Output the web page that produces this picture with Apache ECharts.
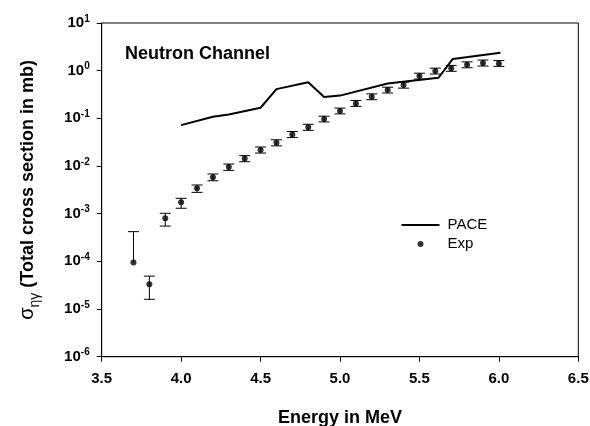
<!DOCTYPE html>
<html>
<head>
<meta charset="utf-8">
<script src="https://cdn.jsdelivr.net/npm/echarts@6/dist/echarts.min.js"></script>
<style>
html,body{margin:0;padding:0;background:#fff;}
#chart{width:590px;height:426px;}
</style>
</head>
<body>
<div id="chart"></div>
<script>
// ---- data ----
const expEnergy = [3.7, 3.8, 3.9, 4.0, 4.1, 4.2, 4.3, 4.4, 4.5, 4.6, 4.7, 4.8, 4.9, 5.0, 5.1, 5.2, 5.3, 5.4, 5.5, 5.6, 5.7, 5.8, 5.9, 6.0];
const expValue  = [9.5e-5, 3.3e-5, 8.0e-4, 1.73e-3, 3.4e-3, 5.8e-3, 9.5e-3, 1.43e-2, 2.17e-2, 3.08e-2, 4.6e-2, 6.5e-2, 0.097, 0.143, 0.206, 0.284, 0.394, 0.50, 0.77, 0.98, 1.12, 1.33, 1.45, 1.42];
const expLow    = [null, 1.6e-5, 5.5e-4, 1.3e-3, 2.8e-3, 4.9e-3, 8.1e-3, 1.23e-2, 1.87e-2, 2.65e-2, 3.95e-2, 5.6e-2, 0.084, 0.124, 0.178, 0.246, 0.34, 0.43, 0.665, 0.85, 0.97, 1.15, 1.25, 1.23];
const expHigh   = [4.2e-4, 4.9e-5, 1.02e-3, 2.1e-3, 4.0e-3, 6.8e-3, 1.1e-2, 1.65e-2, 2.5e-2, 3.55e-2, 5.3e-2, 7.5e-2, 0.111, 0.164, 0.237, 0.326, 0.45, 0.575, 0.885, 1.13, 1.29, 1.53, 1.67, 1.63];
const paceEnergy = [4.0, 4.2, 4.3, 4.5, 4.6, 4.8, 4.9, 5.0, 5.3, 5.62, 5.71, 6.01];
const paceValue  = [0.072, 0.108, 0.12, 0.167, 0.41, 0.57, 0.28, 0.30, 0.54, 0.71, 1.76, 2.38];
const xTickLabels = ['3.5', '4.0', '4.5', '5.0', '5.5', '6.0', '6.5'];
const yTickExponents = ['-6', '-5', '-4', '-3', '-2', '-1', '0', '1'];

const FONT = 'Liberation Sans, Arial, sans-serif';

const paceData = paceEnergy.map((e, i) => [e, paceValue[i]]);
const expData = expEnergy.map((e, i) => [e, expValue[i]]);
const errData = expEnergy.map((e, i) => [e, expValue[i], expLow[i] == null ? '-' : expLow[i], expHigh[i]]);

const chart = echarts.init(document.getElementById('chart'));
chart.setOption({
  animation: false,
  backgroundColor: '#fff',
  textStyle: { fontFamily: FONT, color: '#000' },
  title: {
    text: 'Neutron Channel',
    left: 125, top: 45, padding: 0,
    textStyle: { fontFamily: FONT, fontSize: 18, fontWeight: 'bold', color: '#000' }
  },
  legend: {
    orient: 'vertical',
    left: 401.5, top: 215.5, padding: 0,
    itemWidth: 38, itemHeight: 6, itemGap: 0,
    symbolKeepAspect: true,
    textStyle: { fontFamily: FONT, fontSize: 15, color: '#000', lineHeight: 19, padding: [0, 0, 0, 3] },
    data: [
      { name: 'PACE', icon: 'path://M0,0H38V2H0Z', itemStyle: { color: '#000' } },
      { name: 'Exp', icon: 'circle', itemStyle: { color: '#000' } }
    ]
  },
  grid: {
    left: 101.7, right: 11.7, top: 23, bottom: 69.3,
    outerBoundsMode: 'none', containLabel: false,
    show: true, borderColor: '#000', borderWidth: 1, backgroundColor: 'transparent'
  },
  xAxis: {
    type: 'value', min: 3.5, max: 6.5, interval: 0.5,
    name: 'Energy in MeV', nameLocation: 'middle', nameGap: 52,
    nameTextStyle: { fontFamily: FONT, fontSize: 18, fontWeight: 'bold', color: '#000' },
    axisLine: { lineStyle: { color: '#000', width: 1 } },
    axisTick: { inside: false, length: 5, lineStyle: { color: '#000' } },
    splitLine: { show: false },
    axisLabel: {
      margin: 15, fontFamily: FONT, fontSize: 15, fontWeight: 'bold', color: '#000',
      formatter: v => xTickLabels[Math.round((v - 3.5) / 0.5)]
    }
  },
  yAxis: {
    type: 'log', logBase: 10, min: 1e-6, max: 10, interval: 1,
    name: '{s|σ}{sub|ηγ}{m| (Total cross section in mb)}',
    nameLocation: 'middle', nameGap: 60, nameRotate: 90,
    nameTextStyle: {
      fontFamily: FONT, color: '#000',
      rich: {
        s: { fontFamily: FONT, fontSize: 20, lineHeight: 28, verticalAlign: 'middle', color: '#000' },
        sub: { fontFamily: FONT, fontSize: 14, lineHeight: 14, verticalAlign: 'bottom', color: '#000' },
        m: { fontFamily: FONT, fontSize: 18, fontWeight: 'bold', lineHeight: 28, verticalAlign: 'middle', color: '#000' }
      }
    },
    axisLine: { show: true, lineStyle: { color: '#000', width: 1 } },
    axisTick: { show: true, inside: false, length: 5, lineStyle: { color: '#000' } },
    minorTick: { show: false },
    splitLine: { show: false },
    axisLabel: {
      margin: 12, color: '#000',
      formatter: v => {
        const idx = Math.round(Math.log10(v)) + 6;
        return '{a|10}{b|' + yTickExponents[idx] + '}';
      },
      rich: {
        a: { fontFamily: FONT, fontSize: 15, fontWeight: 'bold', lineHeight: 18, verticalAlign: 'middle', color: '#000' },
        b: { fontFamily: FONT, fontSize: 10, fontWeight: 'bold', lineHeight: 10, verticalAlign: 'top', color: '#000' }
      }
    }
  },
  series: [
    {
      name: 'PACE', type: 'line', data: paceData,
      symbol: 'none', showSymbol: false,
      lineStyle: { color: '#000', width: 2 },
      itemStyle: { color: '#000' },
      z: 3
    },
    {
      name: 'ExpErr', type: 'custom', data: errData,
      encode: { x: 0, y: 1 },
      renderItem: function (params, api) {
        const x = api.value(0), v = api.value(1), lo = api.value(2), hi = api.value(3);
        const cap = 5.5;
        const children = [];
        const pv = api.coord([x, v]);
        const ph = api.coord([x, hi]);
        children.push({ type: 'line', shape: { x1: pv[0], y1: pv[1], x2: ph[0], y2: ph[1] }, style: { stroke: '#000', lineWidth: 1 } });
        children.push({ type: 'line', shape: { x1: ph[0] - cap, y1: ph[1], x2: ph[0] + cap, y2: ph[1] }, style: { stroke: '#000', lineWidth: 1 } });
        if (!isNaN(lo) && lo > 0) {
          const pl = api.coord([x, lo]);
          children.push({ type: 'line', shape: { x1: pv[0], y1: pv[1], x2: pl[0], y2: pl[1] }, style: { stroke: '#000', lineWidth: 1 } });
          children.push({ type: 'line', shape: { x1: pl[0] - cap, y1: pl[1], x2: pl[0] + cap, y2: pl[1] }, style: { stroke: '#000', lineWidth: 1 } });
        }
        return { type: 'group', children: children };
      },
      z: 4
    },
    {
      name: 'Exp', type: 'scatter', data: expData,
      symbol: 'circle', symbolSize: 6,
      itemStyle: { color: '#000' },
      z: 5
    }
  ]
});
</script>
</body>
</html>
